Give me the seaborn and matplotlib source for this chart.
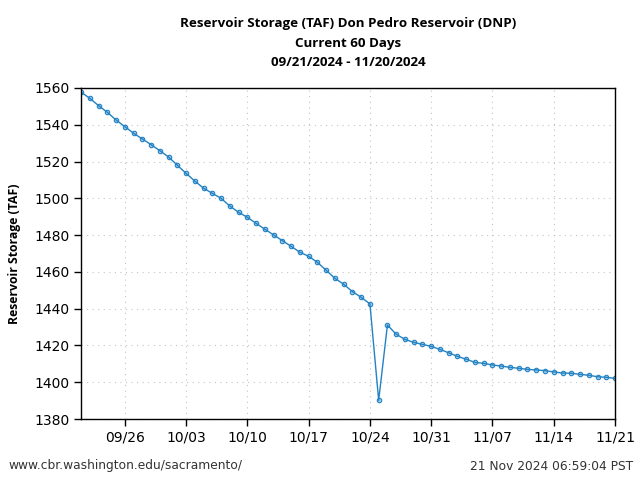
import numpy as np
import pandas as pd
import matplotlib
matplotlib.use("Agg")
import matplotlib.pyplot as plt
import matplotlib.dates as mdates
import seaborn as sns

# daily storage, 09/21/2024 .. 11/21/2024
dates = pd.date_range("2024-09-21", "2024-11-21", freq="D")
storage = [
    1557.7, 1554.4, 1550.4, 1546.8, 1542.6, 1539.0, 1535.4, 1532.3, 1529.2, 1525.9,
    1522.5, 1518.0, 1513.6, 1509.4, 1505.5, 1502.7, 1500.0, 1495.8, 1492.4, 1489.7,
    1486.4, 1483.2, 1480.1, 1477.0, 1473.9, 1470.7, 1468.5, 1465.2, 1460.9, 1456.5,
    1453.3, 1449.3, 1446.2, 1442.6, 1390.2, 1431.1, 1426.1, 1423.3, 1421.7, 1420.6,
    1419.5, 1417.9, 1416.0, 1414.1, 1412.5, 1410.8, 1410.3, 1409.4, 1408.8, 1408.1,
    1407.6, 1407.0, 1406.7, 1406.3, 1405.6, 1405.0, 1404.9, 1404.3, 1403.8, 1403.0,
    1402.7, 1402.1,
]
tick_dates = pd.date_range("2024-09-26", "2024-11-21", freq="7D")
y_ticks = list(range(1380, 1561, 20))

df = pd.DataFrame({"date": dates, "storage": storage})

sns.set_style("ticks")
plt.rcParams["font.family"] = ["DejaVu Sans"]
plt.rcParams["text.color"] = "black"
plt.rcParams["axes.labelcolor"] = "black"

fig = plt.figure(figsize=(6.4, 4.8), dpi=100)
ax = fig.add_axes([0.1266, 0.127, 0.8344, 0.6897])

line_color = "#2282c4"
sns.lineplot(data=df, x="date", y="storage", ax=ax, color=line_color, lw=1.0,
             marker="o", markersize=3.2, markerfacecolor=(0.13, 0.51, 0.77, 0.4),
             markeredgecolor=line_color, markeredgewidth=0.8)

ax.set_xlim(dates[0], dates[-1])
ax.set_ylim(1380, 1560)
ax.set_xticks(tick_dates)
ax.xaxis.set_major_formatter(mdates.DateFormatter("%m/%d"))
ax.set_yticks(y_ticks)
ax.tick_params(labelsize=10, colors="black", direction="out", length=5, width=1)
ax.grid(True, linestyle=(0, (1, 4)), color="#c4c4c4", linewidth=0.8)
for sp in ax.spines.values():
    sp.set_color("black")
    sp.set_linewidth(1.0)
ax.set_xlabel("")
ax.set_ylabel("Reservoir Storage (TAF)", fontsize=8.8, fontweight="bold", color="black",
              family=["Open Sans", "DejaVu Sans"], labelpad=9)

ax.set_title("Reservoir Storage (TAF) Don Pedro Reservoir (DNP)\nCurrent 60 Days\n09/21/2024 - 11/20/2024",
             fontsize=9.6, fontweight="bold", color="black", family=["Open Sans", "DejaVu Sans"],
             linespacing=1.62, pad=16)

fig.text(8 / 640, 1 - 466 / 480, "www.cbr.washington.edu/sacramento/", fontsize=8.8,
         color="#333333", va="center", ha="left")
fig.text(633 / 640, 1 - 466 / 480, "21 Nov 2024 06:59:04 PST", fontsize=8.8,
         color="#333333", va="center", ha="right")

fig.savefig("out.png", dpi=100)
